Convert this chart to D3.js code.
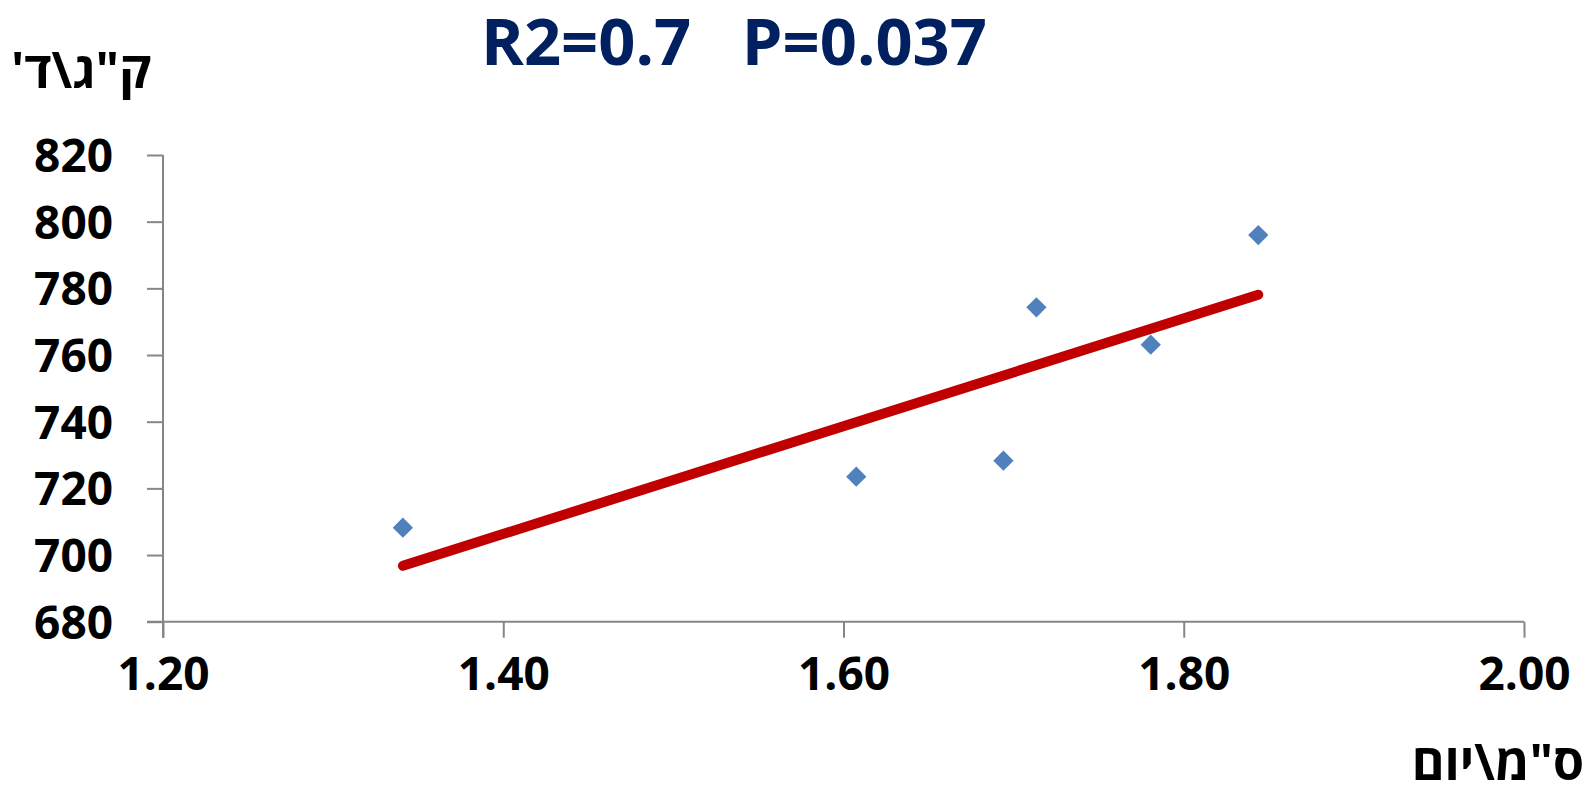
<!DOCTYPE html>
<html>
<head>
<meta charset="utf-8">
<script src="https://cdn.jsdelivr.net/npm/d3@7"></script>
<style>
  html, body { margin: 0; padding: 0; background: #ffffff; }
  svg { display: block; }
  text { font-family: "Open Sans", "DejaVu Sans", sans-serif; font-weight: 700; }
</style>
</head>
<body>
<svg id="chart" width="1587" height="788"></svg>
<script>
// ---- data ----
const xValues = [1.341, 1.6075, 1.694, 1.7134, 1.7806, 1.8438];
const yValues = [708.2, 723.5, 728.3, 774.3, 763.1, 796.0];
const xTicks = [1.2, 1.4, 1.6, 1.8, 2.0];
const yTicks = [680, 700, 720, 740, 760, 780, 800, 820];
const titleText = "R2=0.7\u00A0\u00A0\u00A0P=0.037";
const yLabel = "ק\"ג\\ד'";
const xLabel = "ס\"מ\\יום";

const svg = d3.select("#chart");

const x = d3.scaleLinear().domain([1.2, 2.0]).range([163, 1524]);
const y = d3.scaleLinear().domain([680, 820]).range([621.7, 155]);

const axisColor = "#868686";

// y axis
const yAxis = svg.append("g")
  .attr("transform", `translate(${x(1.2)},0)`)
  .call(d3.axisLeft(y).tickValues(yTicks).tickSize(16).tickPadding(34).tickFormat(d3.format("d")));
yAxis.select(".domain").attr("stroke", axisColor).attr("stroke-width", 2)
  .attr("d", `M0,${y(820)}V${y(680) + 16}`);
yAxis.selectAll(".tick line").attr("stroke", axisColor).attr("stroke-width", 2);
yAxis.selectAll(".tick text").attr("font-size", 46).attr("fill", "#000")
  .attr("font-family", "'Open Sans', 'DejaVu Sans', sans-serif").attr("font-weight", 700)
  .attr("dy", "0.36em");

// x axis
const xAxis = svg.append("g")
  .attr("transform", `translate(0,${y(680)})`)
  .call(d3.axisBottom(x).tickValues(xTicks).tickSize(16).tickPadding(20).tickFormat(d3.format(".2f")));
xAxis.select(".domain").attr("stroke", axisColor).attr("stroke-width", 2)
  .attr("d", `M${x(1.2) - 16},0H${x(2.0)}`);
xAxis.selectAll(".tick line").attr("stroke", axisColor).attr("stroke-width", 2);
xAxis.selectAll(".tick text").attr("font-size", 46).attr("fill", "#000")
  .attr("font-family", "'Open Sans', 'DejaVu Sans', sans-serif").attr("font-weight", 700);

// trendline (least squares)
const n = xValues.length;
const mx = d3.mean(xValues), my = d3.mean(yValues);
let sxy = 0, sxx = 0;
for (let i = 0; i < n; i++) { sxy += (xValues[i] - mx) * (yValues[i] - my); sxx += (xValues[i] - mx) ** 2; }
const slope = sxy / sxx, intercept = my - slope * mx;
const x0 = d3.min(xValues), x1 = d3.max(xValues);
svg.append("line")
  .attr("x1", x(x0)).attr("y1", y(intercept + slope * x0))
  .attr("x2", x(x1)).attr("y2", y(intercept + slope * x1))
  .attr("stroke", "#C00000").attr("stroke-width", 10).attr("stroke-linecap", "round");

// points
const sym = d3.symbol().type(d3.symbolSquare).size(205);
svg.append("g").selectAll("path").data(xValues).join("path")
  .attr("d", sym)
  .attr("transform", (d, i) => `translate(${x(d)},${y(yValues[i])}) rotate(45)`)
  .attr("fill", "#4F81BD");

// title
svg.append("text")
  .attr("x", 734).attr("y", 65)
  .attr("text-anchor", "middle")
  .attr("font-size", 65)
  .attr("fill", "#002060")
  .text(titleText);

// y label
svg.append("text")
  .attr("x", 81).attr("y", 88)
  .attr("text-anchor", "middle")
  .attr("direction", "rtl")
  .style("direction", "rtl")
  .attr("font-size", 50)
  .attr("fill", "#000")
  .text(yLabel);

// x label (right edge kept just inside the page)
const xl = svg.append("text")
  .attr("x", 1503).attr("y", 780)
  .attr("text-anchor", "middle")
  .attr("direction", "rtl")
  .style("direction", "rtl")
  .attr("font-size", 50)
  .attr("fill", "#000")
  .text(xLabel);
const bb = xl.node().getBBox();
xl.attr("x", 1503 + (1584 - (bb.x + bb.width)));
</script>
</body>
</html>
